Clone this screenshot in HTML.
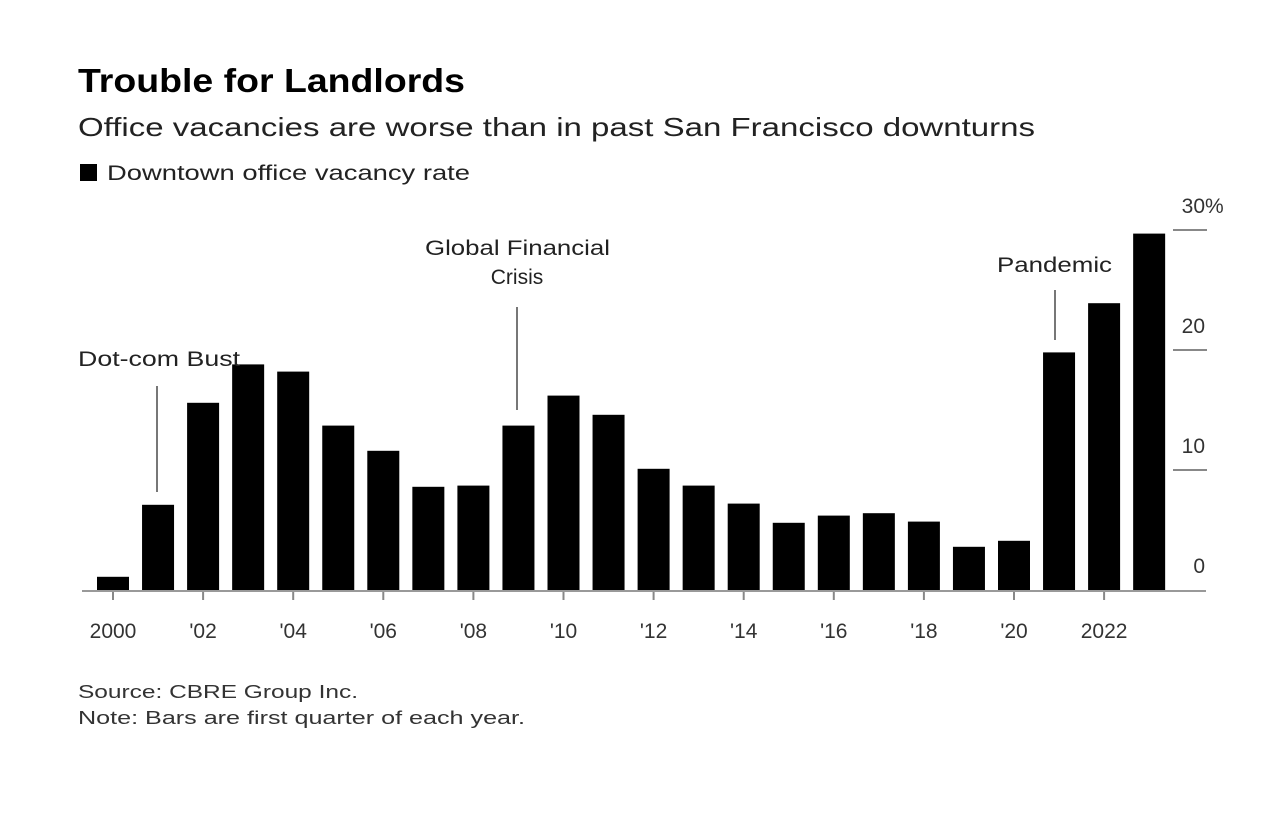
<!DOCTYPE html>
<html><head><meta charset="utf-8"><style>
body{margin:0;background:#fff;width:1283px;height:822px;overflow:hidden;font-family:"Liberation Sans",sans-serif}
svg{position:absolute;left:0;top:0}
</style></head><body>
<svg width="1283" height="822">
<text x="78" y="92" font-size="33" font-weight="bold" fill="#000" textLength="387" lengthAdjust="spacingAndGlyphs">Trouble for Landlords</text>
<text x="78" y="136" font-size="26" fill="#222" textLength="957" lengthAdjust="spacingAndGlyphs">Office vacancies are worse than in past San Francisco downturns</text>
<rect x="80" y="164" width="17" height="17" fill="#000"/>
<text x="107" y="180" font-size="21" fill="#222" textLength="363" lengthAdjust="spacingAndGlyphs">Downtown office vacancy rate</text>
<g id="grid"></g>
<g id="bars"></g>
<g id="xaxis"></g>
<line x1="82" y1="591" x2="1206" y2="591" stroke="#999" stroke-width="2"/>
<g>
<text x="78" y="366" font-size="21" fill="#222" textLength="162" lengthAdjust="spacingAndGlyphs">Dot-com Bust</text>
<line x1="157" y1="386" x2="157" y2="492" stroke="#777" stroke-width="2"/></g>
<g>
<text x="425" y="255" font-size="21" fill="#222" textLength="185" lengthAdjust="spacingAndGlyphs">Global Financial</text>
<text x="517" y="284" font-size="21" fill="#222" text-anchor="middle">Crisis</text>
<line x1="517" y1="307" x2="517" y2="410" stroke="#777" stroke-width="2"/></g>
<g>
<text x="997" y="272" font-size="21" fill="#222" textLength="115" lengthAdjust="spacingAndGlyphs">Pandemic</text>
<line x1="1055" y1="290" x2="1055" y2="340" stroke="#777" stroke-width="2"/></g>
<text x="78" y="698" font-size="18" fill="#333" textLength="280" lengthAdjust="spacingAndGlyphs">Source: CBRE Group Inc.</text>
<text x="78" y="724" font-size="18" fill="#333" textLength="447" lengthAdjust="spacingAndGlyphs">Note: Bars are first quarter of each year.</text>
</svg>
<script>
const years=[2000,2001,2002,2003,2004,2005,2006,2007,2008,2009,2010,2011,2012,2013,2014,2015,2016,2017,2018,2019,2020,2021,2022,2023];
const values=[1.1,7.1,15.6,18.8,18.2,13.7,11.6,8.6,8.7,13.7,16.2,14.6,10.1,8.7,7.2,5.6,6.2,6.4,5.7,3.6,4.1,19.8,23.9,29.7];
const yTicks=[0,10,20,30];
const xLabels={2000:"2000",2002:"'02",2004:"'04",2006:"'06",2008:"'08",2010:"'10",2012:"'12",2014:"'14",2016:"'16",2018:"'18",2020:"'20",2022:"2022"};
const NS="http://www.w3.org/2000/svg";
const y=v=>590-v*12.0;
const x=yr=>113+(yr-2000)*45.05;
const mk=(t,a)=>{const e=document.createElementNS(NS,t);for(const k in a)e.setAttribute(k,a[k]);return e;};
const grid=document.getElementById('grid');
yTicks.forEach(t=>{
  if(t>0){const l=mk('line',{x1:1173,x2:1207,y1:y(t),y2:y(t),stroke:'#888','stroke-width':2});
  
  grid.appendChild(l);}
  const tx=mk('text',{x:1205,y:y(t)-17,'font-size':21,fill:'#333','text-anchor':'end'});
  tx.textContent=t;
  
  grid.appendChild(tx);
  if(t===30){const p=mk('text',{x:1205,y:y(t)-17,'font-size':21,fill:'#333'});p.textContent='%';
  
  grid.appendChild(p);}
});
const bars=document.getElementById('bars');
years.forEach((yr,i)=>{
  const r=mk('rect',{x:x(yr)-16,y:y(values[i]),width:32,height:590-y(values[i]),fill:'#000'});
  
  bars.appendChild(r);
});
const xa=document.getElementById('xaxis');
years.forEach(yr=>{
  if(xLabels[yr]){
    const tk=mk('line',{x1:x(yr),x2:x(yr),y1:591,y2:600,stroke:'#888','stroke-width':2});
    
    xa.appendChild(tk);
    const t=mk('text',{x:x(yr),y:638,'font-size':21,fill:'#333','text-anchor':'middle'});
    t.textContent=xLabels[yr];
    
    xa.appendChild(t);
  }
});
</script>
</body></html>
